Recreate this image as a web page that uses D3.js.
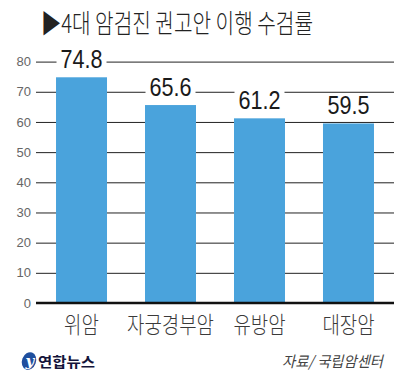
<!DOCTYPE html>
<html><head><meta charset="utf-8">
<script src="https://cdn.jsdelivr.net/npm/d3@7"></script>
<style>
html,body{margin:0;padding:0;background:#fff;}
svg{display:block;}
text{font-family:"Noto Sans CJK KR","Noto Sans",sans-serif;}
</style></head>
<body>
<svg id="chart" width="419" height="387"></svg>
<script>
const title = "▶4대 암검진 권고안 이행 수검률";
const categories = ["위암", "자궁경부암", "유방암", "대장암"];
const values = [74.8, 65.6, 61.2, 59.5];
const yTicks = [0, 10, 20, 30, 40, 50, 60, 70, 80];
const source = "자료/ 국립암센터";
const brand = "연합뉴스";

(function () {
const svg = d3.select("#chart");
const mLeft = 36, mRight = 394, mBottom = 303, mTop = 61.6;

const x = d3.scaleBand().domain(categories).range([mLeft, mRight])
  .paddingInner(0.427).paddingOuter(0.225);
const y = d3.scaleLinear().domain([0, 80]).range([mBottom, mTop]);

// Title
svg.append("text").attr("x", 41).attr("y", 33)
  .attr("font-size", 26).attr("fill", "#222").attr("font-weight", 300)
  .attr("textLength", 272).attr("lengthAdjust", "spacingAndGlyphs")
  .text(title);

// Axis with gridlines
const axis = d3.axisLeft(y).tickValues(yTicks).tickSizeInner(-(mRight - mLeft)).tickSizeOuter(0).tickPadding(5);
const gAxis = svg.append("g").attr("transform", `translate(${mLeft},0)`).call(axis);
gAxis.select(".domain").remove();
gAxis.selectAll(".tick line").attr("stroke", "#222").attr("stroke-width", 1);
gAxis.selectAll(".tick text").attr("fill", "#666").attr("font-size", 13)
  .style("font-family", "Arial, 'Liberation Sans', sans-serif");

// Bars
svg.append("g").selectAll("rect").data(values).join("rect")
  .attr("x", (d, i) => x(categories[i]))
  .attr("y", d => y(d))
  .attr("width", x.bandwidth())
  .attr("height", d => y(0) - y(d))
  .attr("fill", "#4aa3dc");

// Baseline
svg.append("line").attr("x1", mLeft).attr("x2", mRight)
  .attr("y1", y(0)).attr("y2", y(0))
  .attr("stroke", "#111").attr("stroke-width", 2.5);

// Value labels with white knockout
const gv = svg.append("g");
values.forEach((v, i) => {
  const cx = x(categories[i]) + x.bandwidth() / 2;
  const by = y(v) - 9.5;
  const w = 42;
  gv.append("rect").attr("x", cx - w / 2 - 4).attr("y", by - 19).attr("width", w + 8).attr("height", 20).attr("fill", "#fff");
  gv.append("text").attr("x", cx - w / 2).attr("y", by)
    .attr("font-size", 25).attr("fill", "#1a1a1a")
    .attr("textLength", w).attr("lengthAdjust", "spacingAndGlyphs")
    .style("font-family", "Arial, 'Liberation Sans', sans-serif")
    .text(v.toFixed(1));
});

// Category labels
svg.append("g").selectAll("text").data(categories).join("text")
  .attr("x", d => x(d) + x.bandwidth() / 2 - d.length * 17.4 / 2)
  .attr("y", 333)
  .attr("font-size", 23).attr("fill", "#3a3a3a").attr("font-weight", 300)
  .attr("textLength", d => d.length * 17.4).attr("lengthAdjust", "spacingAndGlyphs")
  .text(d => d);

// Logo
const logo = svg.append("g").attr("transform", "translate(29,361)");
logo.append("ellipse").attr("rx", 7).attr("ry", 9).attr("transform", "rotate(20)").attr("fill", "#1f4f9e");
logo.append("text").attr("x", -3.5).attr("y", 5).attr("font-size", 15).attr("font-style", "italic")
  .attr("font-weight", "bold").attr("fill", "#fff").style("font-family", "'DejaVu Serif', serif").text("y");
svg.append("text").attr("x", 38).attr("y", 367).attr("font-size", 14).attr("font-weight", "bold")
  .attr("fill", "#14143a").attr("textLength", 57).attr("lengthAdjust", "spacingAndGlyphs").text(brand);

// Source
svg.append("text").attr("x", 282).attr("y", 367).attr("font-size", 15).attr("font-style", "italic")
  .attr("fill", "#444").attr("textLength", 101).attr("lengthAdjust", "spacingAndGlyphs").text(source);
})();
</script>
</body></html>
